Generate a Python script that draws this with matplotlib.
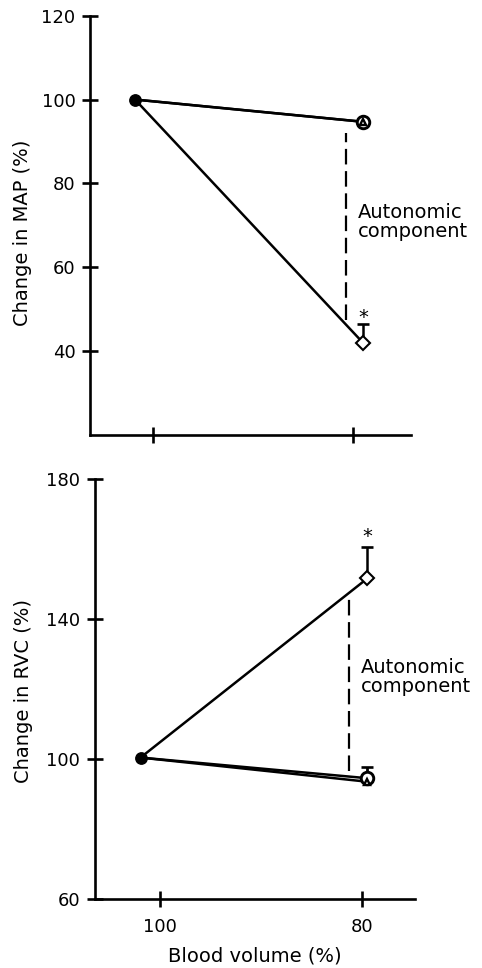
import numpy as np
from matplotlib import pyplot as plt

plt.rcParams['font.family'] = 'DejaVu Sans'
plt.rcParams['axes.linewidth'] = 1.9
plt.rcParams['xtick.labelsize'] = 13
plt.rcParams['ytick.labelsize'] = 13
plt.rcParams['axes.labelsize'] = 14

# Top panel: change in MAP (%)
map_x = [101.8, 79.0]
map_circle = [100, 94.7]
map_triangle = [100, 94.7]
map_diamond = [100, 42.0]
map_diamond_err = 4.4
map_dash = [92.0, 47.5]
map_dash_x = 80.7

# Bottom panel: change in RVC (%)
rvc_x = [101.9, 79.5]
rvc_circle = [100.4, 94.5]
rvc_circle_err = 3.3
rvc_triangle = [100.4, 93.5]
rvc_diamond = [100.4, 151.6]
rvc_diamond_err = 8.9
rvc_dash = [146.3, 96.7]
rvc_dash_x = 81.3

xticks = [100, 80]
map_yticks = [40, 60, 80, 100, 120]
rvc_yticks = [60, 100, 140, 180]

fig = plt.figure(figsize=(4.82, 9.68), dpi=100)
ax1 = fig.add_axes([0.1867, 0.5506, 0.666, 0.4332])
ax2 = fig.add_axes([0.197, 0.0713, 0.664, 0.4339])


def style_axes(ax):
    for side in ['top', 'right']:
        ax.spines[side].set_visible(False)
    ax.tick_params(direction='inout', length=11, width=1.9, colors='black')
    ax.tick_params(axis='y', pad=5)
    ax.tick_params(axis='x', pad=8)


def draw_panel(ax, x, circle, triangle, diamond, d_err, c_err):
    lw = 1.8
    ax.plot(x, circle, color='black', lw=lw, zorder=2)
    ax.plot(x, triangle, color='black', lw=lw, zorder=2)
    ax.plot(x, diamond, color='black', lw=lw, zorder=2)
    # error bars (upper only)
    ax.errorbar([x[1]], [diamond[1]], yerr=[[0], [d_err]], fmt='none',
                ecolor='black', elinewidth=1.8, capsize=4, capthick=1.9, zorder=3)
    if c_err:
        ax.errorbar([x[1]], [circle[1]], yerr=[[0], [c_err]], fmt='none',
                    ecolor='black', elinewidth=2.0, capsize=4, capthick=1.9, zorder=3)
    ax.plot(x[0], circle[0], 'o', color='black', ms=8.2, zorder=5)
    ax.plot(x[1], diamond[1], 'D', mfc='white', mec='black', mew=1.5, ms=7.3, zorder=5)
    ax.plot(x[1], circle[1], 'o', mfc='white', mec='black', mew=2.1, ms=9, zorder=5)
    ax.plot(x[1], triangle[1], '^', mfc='white', mec='black', mew=1.7, ms=5, zorder=6)


draw_panel(ax1, map_x, map_circle, map_triangle, map_diamond, map_diamond_err, 0)
ax1.vlines(map_dash_x, map_dash[1], map_dash[0], colors='black', lw=1.6,
           linestyles=(0, (7, 3)))
ax1.text(map_x[1] + 0.5, 70.8, 'Autonomic\ncomponent', fontsize=14,
         ha='left', va='center', linespacing=1.0)
ax1.text(map_x[1], map_diamond[1] + map_diamond_err + 1.6, '*', fontsize=14,
         ha='center', va='center')
ax1.set_xlim(106.3, 74.2)
ax1.set_ylim(20, 120)
ax1.set_xticks(xticks)
ax1.set_xticklabels([])
ax1.set_yticks(map_yticks)
ax1.set_ylabel('Change in MAP (%)')
ax1.yaxis.set_label_coords(-0.18, 0.483)
style_axes(ax1)

draw_panel(ax2, rvc_x, rvc_circle, rvc_triangle, rvc_diamond, rvc_diamond_err, rvc_circle_err)
ax2.vlines(rvc_dash_x, rvc_dash[1], rvc_dash[0], colors='black', lw=1.6,
           linestyles=(0, (7, 3)))
ax2.text(rvc_x[1] + 0.6, 123.4, 'Autonomic\ncomponent', fontsize=14,
         ha='left', va='center', linespacing=1.0)
ax2.text(rvc_x[1], rvc_diamond[1] + rvc_diamond_err + 3.0, '*', fontsize=14,
         ha='center', va='center')
ax2.set_xlim(106.4, 74.8)
ax2.set_ylim(60, 180)
ax2.set_xticks(xticks)
ax2.set_yticks(rvc_yticks)
ax2.set_ylabel('Change in RVC (%)')
ax2.yaxis.set_label_coords(-0.194, 0.494)
ax2.set_xlabel('Blood volume (%)', labelpad=8)
style_axes(ax2)

fig.savefig('out.png', dpi=100)
